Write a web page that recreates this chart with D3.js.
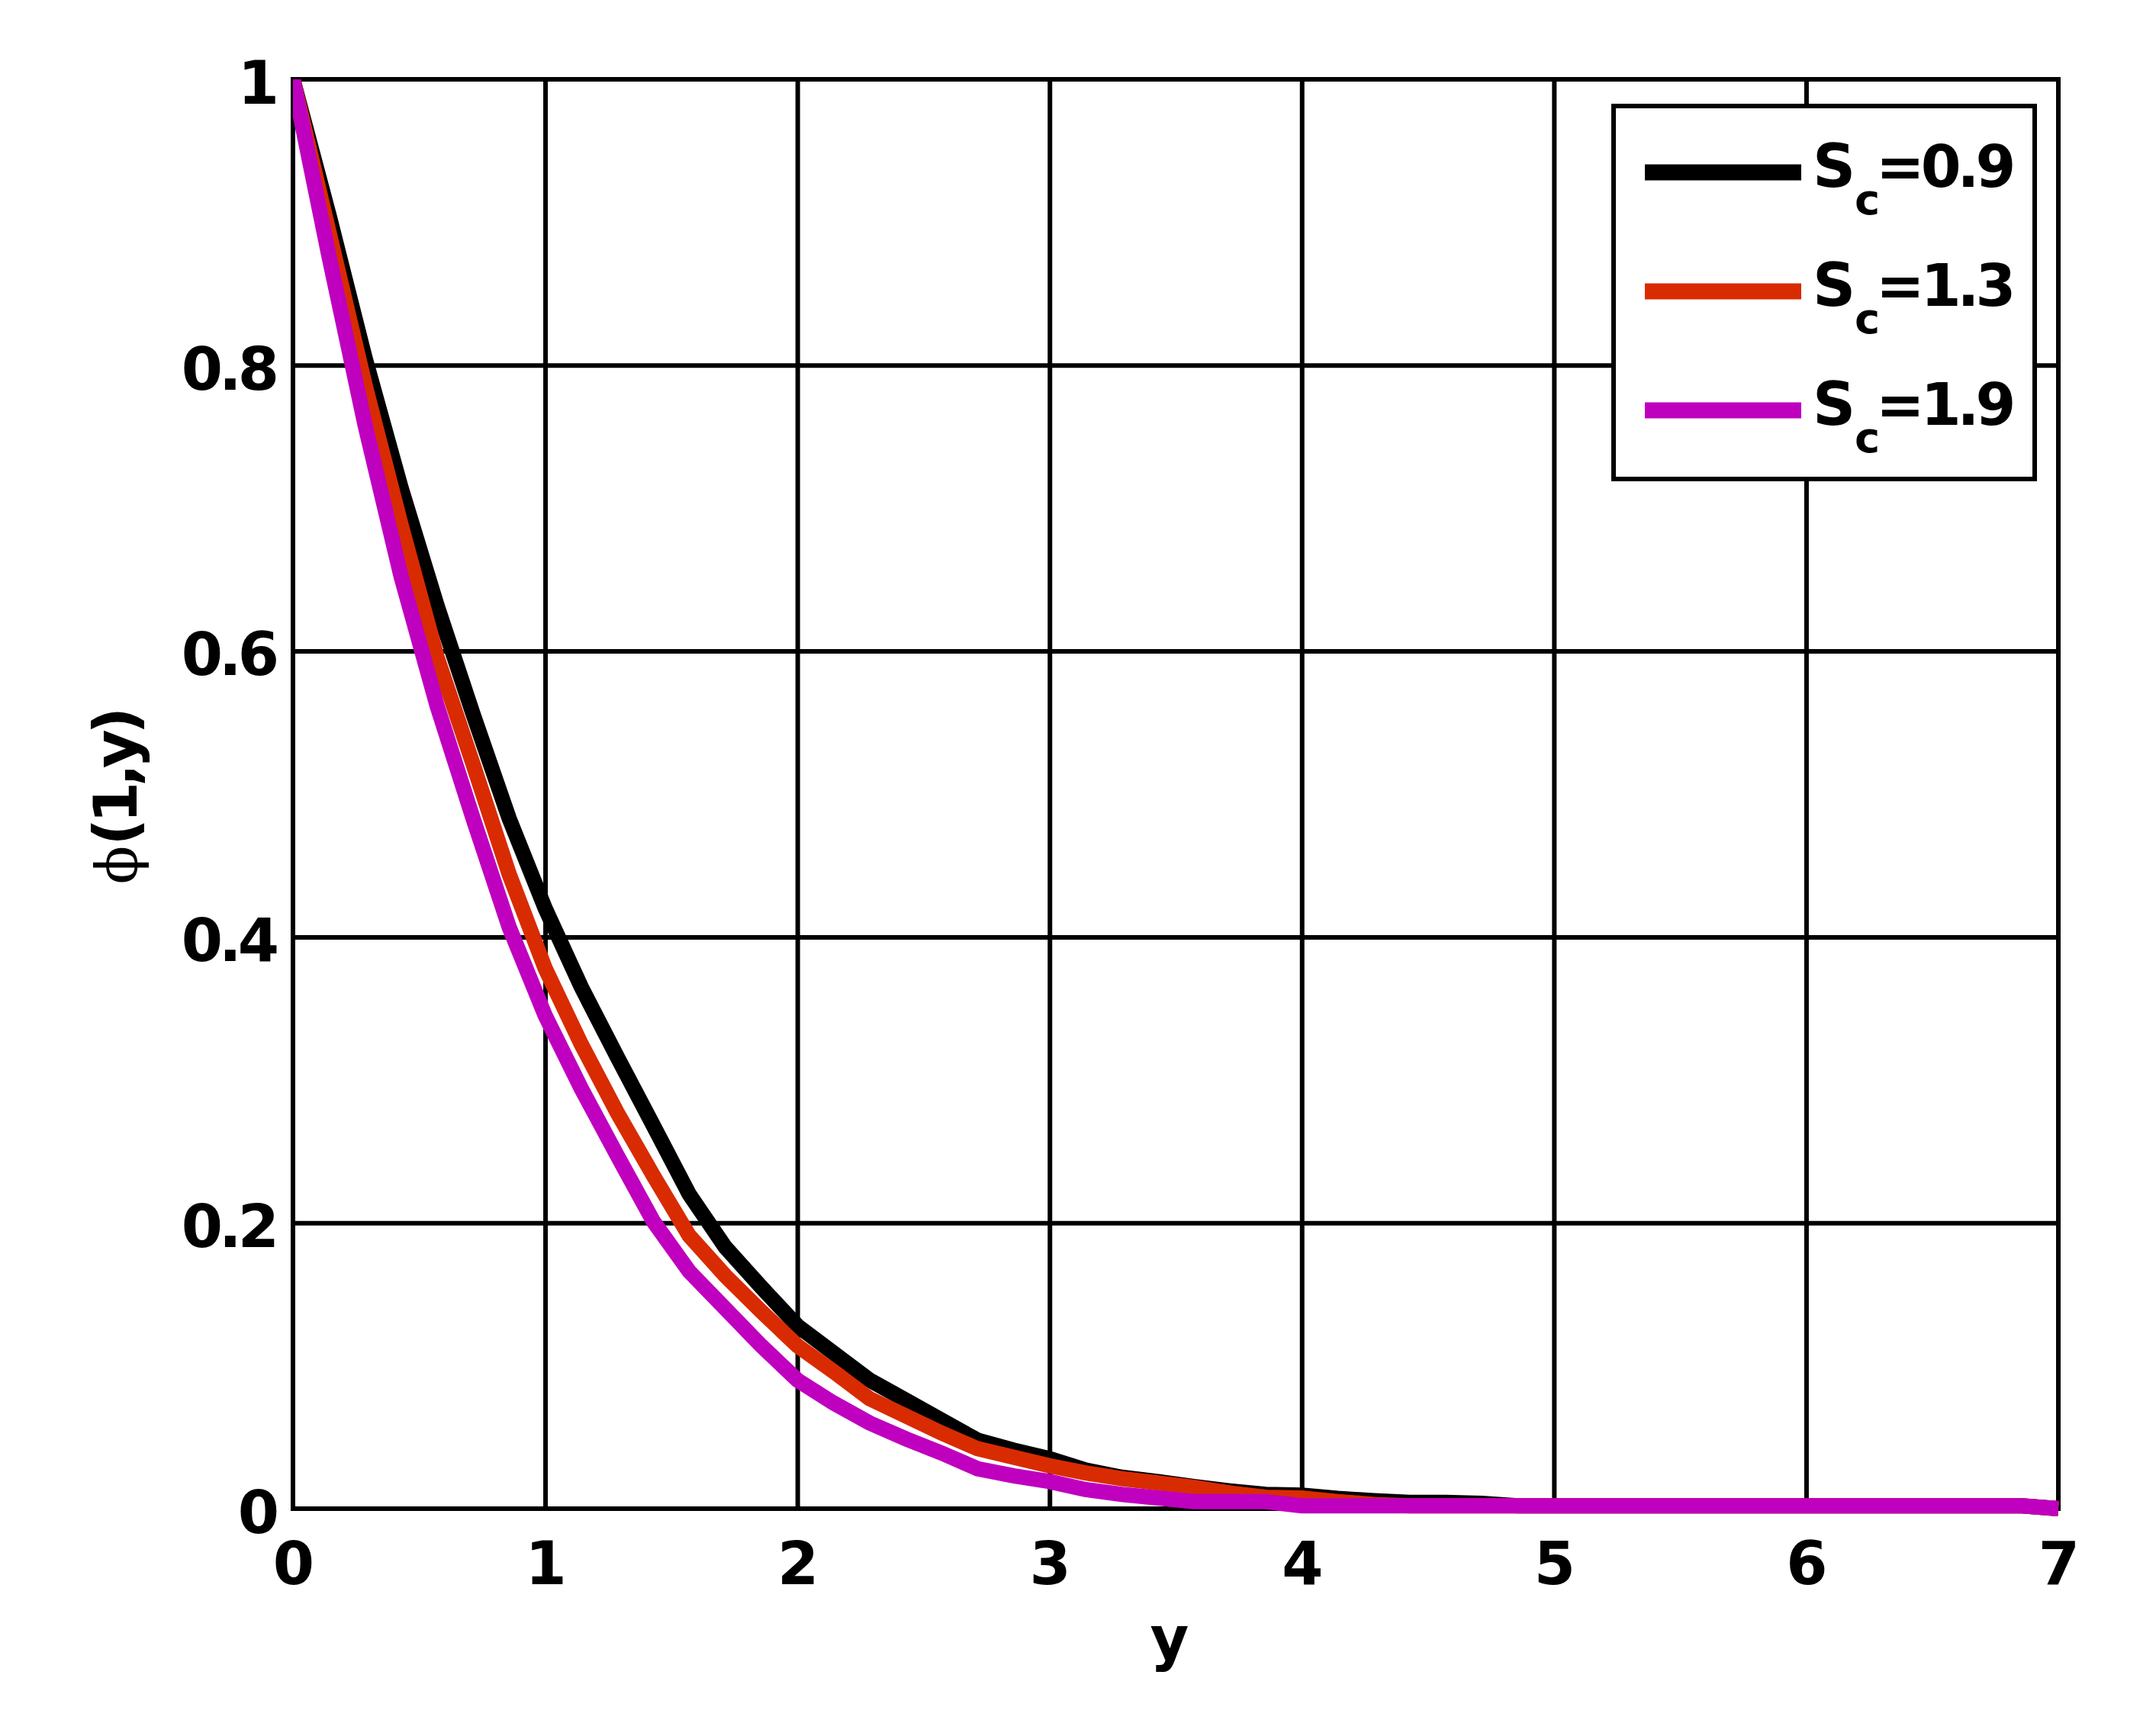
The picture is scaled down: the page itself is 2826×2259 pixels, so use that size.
<!DOCTYPE html>
<html><head><meta charset="utf-8">
<script src="https://cdn.jsdelivr.net/npm/d3@7/dist/d3.min.js"></script>
<style>body{margin:0;background:#fff}svg{display:block}</style>
</head><body>
<svg id="chart" width="2826" height="2259"></svg>
<script>
// ---- data ----
const yPos = [0, 0.143, 0.286, 0.429, 0.571, 0.714, 0.857, 1.0, 1.143, 1.286, 1.429, 1.571, 1.714, 1.857, 2.0, 2.143, 2.286, 2.429, 2.571, 2.714, 2.857, 3.0, 3.143, 3.286, 3.429, 3.571, 3.714, 3.857, 4.0, 4.143, 4.286, 4.429, 4.571, 4.714, 4.857, 5.0, 5.143, 5.286, 5.429, 5.571, 5.714, 5.857, 6.0, 6.143, 6.286, 6.429, 6.571, 6.714, 6.857, 7.0];
const phiSc09 = [1.000, 0.905, 0.805, 0.714, 0.632, 0.556, 0.483, 0.420, 0.365, 0.316, 0.268, 0.220, 0.183, 0.155, 0.128, 0.109, 0.090, 0.076, 0.062, 0.048, 0.041, 0.035, 0.027, 0.022, 0.019, 0.0155, 0.0125, 0.010, 0.0095, 0.0072, 0.0056, 0.0044, 0.0044, 0.0038, 0.002, 0.002, 0.002, 0.002, 0.002, 0.002, 0.002, 0.002, 0.002, 0.002, 0.002, 0.002, 0.002, 0.002, 0.002, 0];
const phiSc13 = [1.000, 0.893, 0.786, 0.688, 0.596, 0.521, 0.444, 0.378, 0.325, 0.277, 0.233, 0.191, 0.163, 0.138, 0.114, 0.096, 0.077, 0.065, 0.053, 0.042, 0.036, 0.030, 0.025, 0.021, 0.018, 0.015, 0.011, 0.008, 0.0075, 0.005, 0.003, 0.002, 0.002, 0.002, 0.002, 0.002, 0.002, 0.002, 0.002, 0.002, 0.002, 0.002, 0.002, 0.002, 0.002, 0.002, 0.002, 0.002, 0.002, 0];
const phiSc19 = [1.000, 0.876, 0.758, 0.652, 0.562, 0.483, 0.407, 0.345, 0.294, 0.247, 0.201, 0.166, 0.140, 0.114, 0.090, 0.074, 0.060, 0.049, 0.039, 0.028, 0.023, 0.019, 0.0134, 0.010, 0.0075, 0.005, 0.005, 0.0049, 0.002, 0.002, 0.002, 0.002, 0.002, 0.002, 0.002, 0.002, 0.002, 0.002, 0.002, 0.002, 0.002, 0.002, 0.002, 0.002, 0.002, 0.002, 0.002, 0.002, 0.002, 0];
const seriesNames = ["0.9", "1.3", "1.9"];
const seriesColors = ["#000000", "#D92B02", "#BF00BF"];
const xTicks = [0, 1, 2, 3, 4, 5, 6, 7];
const yTicks = [0, 0.2, 0.4, 0.6, 0.8, 1];
const yTickLabels = ["0", "0.2", "0.4", "0.6", "0.8", "1"];
const xLabel = "y";

// ---- layout ----
const M = {left: 384, right: 2698, top: 104, bottom: 1978};
const FONT = "'DejaVu Sans', sans-serif";
const FS = 78;
const svg = d3.select("#chart");
svg.append("rect").attr("width", 2826).attr("height", 2259).attr("fill", "#fff");

const x = d3.scaleLinear().domain([0, 7]).range([M.left, M.right]);
const y = d3.scaleLinear().domain([0, 1]).range([M.bottom, M.top]);

// grid
const gx = svg.append("g").attr("transform", `translate(0,${M.bottom})`)
  .call(d3.axisBottom(x).tickValues(xTicks.slice(1, -1)).tickSize(-(M.bottom - M.top)).tickFormat(""));
const gy = svg.append("g").attr("transform", `translate(${M.left},0)`)
  .call(d3.axisLeft(y).tickValues(yTicks.slice(1, -1)).tickSize(-(M.right - M.left)).tickFormat(""));
[gx, gy].forEach(g => {
  g.select(".domain").remove();
  g.selectAll(".tick line").attr("stroke", "#000").attr("stroke-width", 6);
});

// box
svg.append("rect").attr("x", M.left).attr("y", M.top)
  .attr("width", M.right - M.left).attr("height", M.bottom - M.top)
  .attr("fill", "none").attr("stroke", "#000").attr("stroke-width", 6);

// tick labels
const ax = svg.append("g").attr("transform", `translate(0,${M.bottom})`)
  .call(d3.axisBottom(x).tickValues(xTicks).tickSize(0).tickPadding(44).tickFormat(d3.format("d")));
const ay = svg.append("g").attr("transform", `translate(${M.left},0)`)
  .call(d3.axisLeft(y).tickValues(yTicks).tickSize(0).tickPadding(23).tickFormat((d, i) => yTickLabels[i]));
[ax, ay].forEach(g => {
  g.select(".domain").remove();
  g.selectAll(".tick line").remove();
  g.selectAll("text").attr("font-family", FONT).attr("font-weight", "bold")
    .attr("font-size", FS).attr("fill", "#000").style("letter-spacing", "-5px");
});
ax.selectAll("text").attr("dx", "-2");
ay.selectAll("text").attr("dy", "0.4em");

// curves
svg.append("clipPath").attr("id", "clip").append("rect")
  .attr("x", M.left).attr("y", M.top).attr("width", M.right - M.left + 40).attr("height", M.bottom - M.top + 40);
const line = d3.line().x(d => x(d[0])).y(d => y(d[1]));
const allSeries = [phiSc09, phiSc13, phiSc19];
const gc = svg.append("g").attr("clip-path", "url(#clip)");
allSeries.forEach((vals, i) => {
  gc.append("path").datum(yPos.map((t, k) => [t, vals[k]]))
    .attr("d", line).attr("fill", "none").attr("stroke", seriesColors[i])
    .attr("stroke-width", 20).attr("stroke-linejoin", "miter").attr("stroke-linecap", "butt");
});

// axis labels
svg.append("text").attr("x", 1533).attr("y", 2175).attr("text-anchor", "middle")
  .attr("font-family", FONT).attr("font-weight", "bold").attr("font-size", FS).text(xLabel);
const yl = svg.append("text").attr("transform", "translate(179,1046) rotate(-90)")
  .attr("text-anchor", "middle").attr("font-size", FS);
yl.append("tspan").attr("font-family", "'DejaVu Serif', serif").attr("font-weight", "normal").attr("font-size", 74).text("\u03D5");
yl.append("tspan").attr("font-family", FONT).attr("font-weight", "bold").style("letter-spacing", "-6px").text("(1,y)");

// legend
const L = {x: 2115, y: 139, w: 552, h: 489};
svg.append("rect").attr("x", L.x).attr("y", L.y).attr("width", L.w).attr("height", L.h)
  .attr("fill", "#fff").attr("stroke", "#000").attr("stroke-width", 6);
seriesNames.forEach((name, i) => {
  const ry = 226 + i * 156;
  svg.append("line").attr("x1", 2156).attr("x2", 2361).attr("y1", ry).attr("y2", ry)
    .attr("stroke", seriesColors[i]).attr("stroke-width", 21);
  const base = ry + 19;
  const t = svg.append("g").attr("font-family", FONT).attr("font-weight", "bold").attr("fill", "#000");
  t.append("text").attr("x", 2376).attr("y", base).attr("font-size", FS).text("S");
  t.append("text").attr("x", 2431).attr("y", base + 36).attr("font-size", 56).text("c");
  t.append("text").attr("x", 2459).attr("y", base).attr("font-size", 76).style("letter-spacing", "-5px").text("=" + name);
});
</script>
</body></html>
